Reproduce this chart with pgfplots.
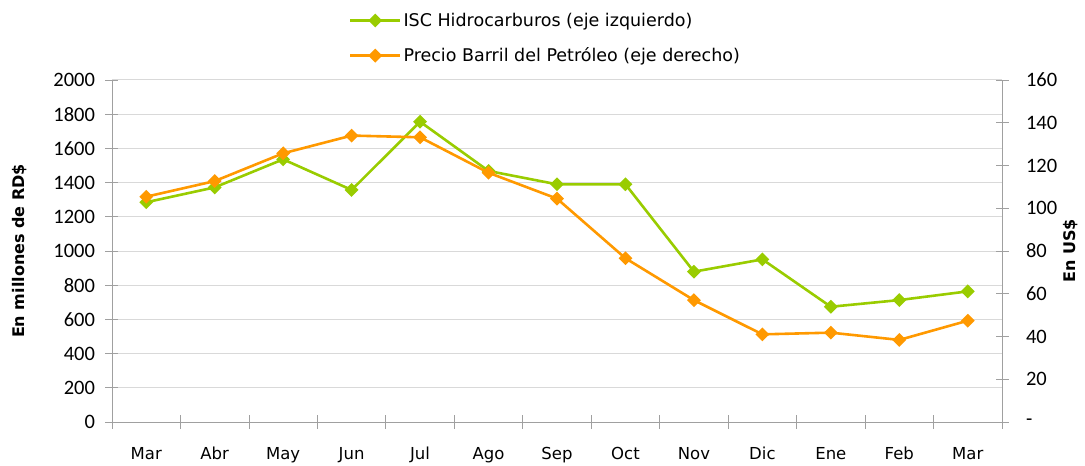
\documentclass[border=0pt]{standalone}
\usepackage{pgfplots}
\pgfplotsset{compat=1.18}
\usepackage{fontspec}
\setmainfont{DejaVu Sans}
\newfontfamily\numfont{Carlito}
\definecolor{isc}{HTML}{99CC00}
\definecolor{oil}{HTML}{FF9900}
\definecolor{axgray}{HTML}{A0A0A0}
\definecolor{gridgray}{HTML}{D9D9D9}
\begin{document}
\begin{tikzpicture}
\useasboundingbox (-112bp,-44bp) rectangle (973bp,422bp);
\pgfplotsset{
  common/.style={scale only axis, width=890bp, height=342bp,
    xmin=-0.5, xmax=12.5, tick align=center,
    major tick length=13bp, minor tick length=13bp,
    tick style={draw=axgray, line width=0.8pt},
    axis line style={draw=axgray, line width=1pt},
    yticklabel style={font=\numfont\fontsize{20.5bp}{24bp}\selectfont},
    ylabel style={font=\bfseries\fontsize{16bp}{19bp}\selectfont},
  },
  ser/.style={line width=2.6bp, mark=square*, mark size=3.6bp, mark options={rotate=45, solid}},
}
\begin{axis}[common, ymin=0, ymax=2000,
  axis x line*=bottom, axis y line*=left,
  ytick={0,200,400,600,800,1000,1200,1400,1600,1800,2000},
  yticklabels={0,200,400,600,800,1000,1200,1400,1600,1800,2000},
  yticklabel style={anchor=east, xshift=-7bp},
  xtick={0,...,12},
  xticklabels={Mar,Abr,May,Jun,Jul,Ago,Sep,Oct,Nov,Dic,Ene,Feb,Mar},
  xticklabel style={font=\fontsize{16.5bp}{20bp}\selectfont, text height=12bp, text depth=3bp, yshift=-15.5bp},
  minor xtick={-0.5,0.5,...,12.5},
  major x tick style={draw=none},
  ymajorgrids, major grid style={draw=gridgray, line width=1pt},
  ylabel={En millones de RD\$},
  ylabel style={at={(rel axis cs:-0.1034,0.5)}, anchor=center},
]
\addplot[isc, ser] coordinates {
  (0,1285) (1,1372) (2,1536) (3,1357) (4,1756) (5,1468) (6,1390)
  (7,1390) (8,879) (9,951) (10,674) (11,713) (12,764)
};
\end{axis}
\begin{axis}[common, ymin=0, ymax=160,
  axis x line=none, axis y line*=right,
  ytick={0,20,40,60,80,100,120,140,160},
  yticklabels={-,20,40,60,80,100,120,140,160},
  yticklabel style={anchor=west, xshift=14bp},
  ylabel={En US\$},
  ylabel style={at={(rel axis cs:1.0775,0.5)}, anchor=center},
  legend style={draw=none, fill=none, at={(rel axis cs:0.266,1.202)}, anchor=north west,
    font=\fontsize{17.5bp}{21bp}\selectfont, row sep=16bp, inner sep=0pt,
    nodes={inner sep=2bp}},
  legend cell align=left,
  legend image code/.code={\draw[#1, mark repeat=2, mark phase=2] plot coordinates {(0bp,0bp) (25bp,0bp) (50bp,0bp)};},
]
\addlegendimage{isc, ser}
\addlegendentry{ISC Hidrocarburos (eje izquierdo)}
\addplot[oil, ser] coordinates {
  (0,105.4) (1,112.7) (2,125.7) (3,134.0) (4,133.2) (5,116.6) (6,104.5)
  (7,76.6) (8,57.0) (9,41.0) (10,41.8) (11,38.4) (12,47.4)
};
\addlegendentry{Precio Barril del Petróleo (eje derecho)}
\end{axis}
\end{tikzpicture}
\end{document}
